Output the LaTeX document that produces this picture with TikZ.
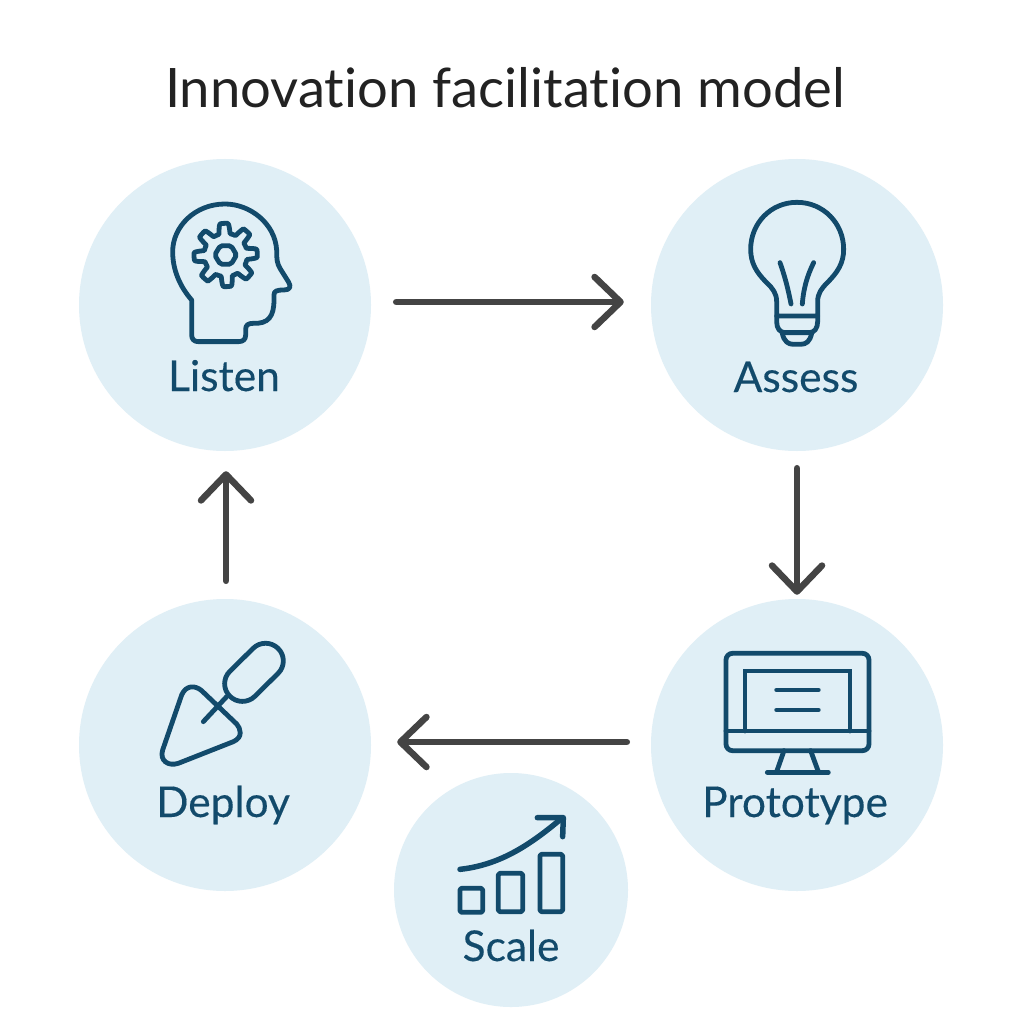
\documentclass[tikz,border=0pt]{standalone}
\usepackage{fontspec}
\setmainfont[Ligatures=NoCommon]{Lato}
\newfontfamily\labfont[Ligatures=NoCommon,FakeBold=0.25]{Lato}
\usetikzlibrary{arrows.meta}
\definecolor{disc}{HTML}{E0EFF6}
\definecolor{ink}{HTML}{124A6B}
\definecolor{flowc}{HTML}{444444}
\definecolor{titlec}{HTML}{222222}
\tikzset{
  stage/.style={circle,fill=disc,draw=none,inner sep=0pt,minimum size=#1},
  lab/.style={anchor=base,text=ink,font=\labfont\fontsize{42.5}{42.5}\selectfont,inner sep=0pt},
  flow/.style={draw=flowc,line width=6.5pt,line cap=round,-{Straight Barb[length=26pt,width=50pt,round,line width=6.5pt]}},
  icon/.style={shift={#1},x=.3333pt,y=-.3333pt,draw=ink,line width=4.8pt,line cap=round,line join=round}
}
\begin{document}
\begin{tikzpicture}[x=1pt,y=-1pt]
\useasboundingbox (0,0) rectangle (1024,1024);
\fill[white] (0,0) rectangle (1024,1024);
\node[anchor=base,text=titlec,font=\fontsize{54.4}{54.4}\selectfont,inner sep=0pt] (title) at (505,108) {Innovation facilitation model};
\node[stage=292pt] (listen) at (225,305) {};
\node[stage=292pt] (assess) at (797,305) {};
\node[stage=292pt] (deploy) at (225,745) {};
\node[stage=292pt] (proto) at (797,745) {};
\node[stage=234pt] (scale) at (511,890) {};
\node[lab] (llisten) at (224,391) {Listen};
\node[lab] (lassess) at (796,392) {Assess};
\node[lab] (ldeploy) at (223,817) {Deploy};
\node[lab] (lproto) at (795,817) {Prototype};
\node[lab] (lscale) at (511,961) {Scale};
% connectors
\draw[flow,shorten <=25pt,shorten >=27pt] ([yshift=3pt]listen.east) -- ([yshift=3pt]assess.west);
\draw[flow,shorten <=17pt,shorten >=4pt] (assess.south) -- (proto.north);
\draw[flow,shorten <=24pt,shorten >=26pt] ([yshift=3pt]proto.west) -- ([yshift=3pt]deploy.east);
\draw[flow,shorten <=18pt,shorten >=20pt] ([xshift=1pt]deploy.north) -- ([xshift=1pt]listen.south);
% head
\begin{scope}[icon={(80,160)}]
\draw (335,420) -- (335,525) .. controls (335,538) and (343,545) .. (355,545) -- (475,545)
 .. controls (490,545) and (497,538) .. (497,525) -- (497,508) .. controls (497,495) and (505,490) .. (520,490)
 .. controls (565,492) and (582,470) .. (582,420) -- (582,405) .. controls (582,393) and (590,390) .. (612,390)
 .. controls (630,390) and (635,380) .. (625,365) -- (600,325) .. controls (592,312) and (590,300) .. (590,270)
 .. controls (585,190) and (510,132) .. (435,132) .. controls (345,132) and (278,200) .. (278,275)
 .. controls (278,330) and (300,380) .. (335,420) -- cycle;
\draw[shift={(437,285)}] plot[domain=0:358,samples=180] ({(80+15*max(-1,min(1,2.2*cos(8*(\x+3)))))*cos(\x)},{(80+15*max(-1,min(1,2.2*cos(8*(\x+3)))))*sin(\x)}) -- cycle;
\draw[rounded corners=2pt] (470,285) -- (453,257) -- (421,257) -- (404,285) -- (421,313) -- (453,313) -- cycle;
\end{scope}
% bulb
\begin{scope}[icon={(650,160)}]
\draw (380,468) -- (380,425) .. controls (380,400) and (368,385) .. (350,368)
 .. controls (320,338) and (302,310) .. (302,268) .. controls (302,190) and (362,127) .. (441,127)
 .. controls (520,127) and (581,190) .. (581,268) .. controls (581,310) and (562,338) .. (532,368)
 .. controls (515,385) and (503,400) .. (503,425) -- (503,468) -- cycle;
\draw (380,468) -- (380,485) .. controls (380,505) and (390,518) .. (405,518) -- (478,518)
 .. controls (493,518) and (503,505) .. (503,485) -- (503,468);
\draw (397,520) .. controls (402,545) and (415,553) .. (430,553) -- (452,553) .. controls (468,553) and (480,545) .. (485,520);
\draw (390,308) .. controls (405,350) and (415,390) .. (423,432);
\draw (491,308) .. controls (470,350) and (460,390) .. (457,432);
\end{scope}
% trowel
\begin{scope}[icon={(80,600)}]
\draw[rounded corners=17.6pt] (557,108) -- (632,183) -- (487,326) -- (412,251) -- cycle;
\draw (305,285) -- (248,450) .. controls (238,482) and (265,500) .. (295,490) -- (460,425)
 .. controls (490,412) and (482,385) .. (470,372) -- (365,272) .. controls (345,255) and (318,255) .. (305,285) -- cycle;
\draw (370,365) -- (440,290);
\end{scope}
% monitor
\begin{scope}[icon={(650,600)}]
\draw[rounded corners=6.5pt] (228,160) rectangle (657,452);
\draw (228,393) -- (657,393);
\draw[line join=miter] (285,393) -- (285,213) -- (600,213) -- (600,393);
\draw (380,270) -- (505,270);
\draw (380,330) -- (505,330);
\draw (402,452) -- (380,515);
\draw (482,452) -- (505,515);
\draw (352,517) -- (535,517);
\end{scope}
% growth
\begin{scope}[icon={(390,770)}]
\draw[line width=5.5pt] (210,298) .. controls (330,285) and (420,225) .. (515,145);
\draw[line width=5.5pt] (442,143) -- (520,143) -- (518,200);
\draw[rounded corners=1.5pt] (210,355) rectangle (278,427);
\draw[rounded corners=1.5pt] (325,310) rectangle (398,425);
\draw[rounded corners=1.5pt] (450,253) rectangle (518,425);
\end{scope}
\end{tikzpicture}
\end{document}
